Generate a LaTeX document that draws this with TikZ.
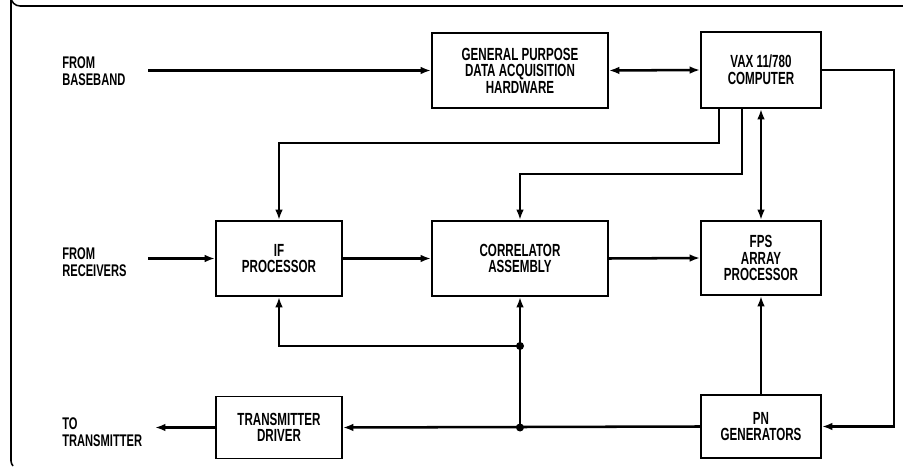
\documentclass[tikz,border=0pt]{standalone}
\usepackage{fontspec}
\setmainfont[FakeStretch=0.66]{Liberation Sans}
\usepackage{tikz}
\usetikzlibrary{arrows.meta,calc}
\tikzset{
  blk/.style ={draw=black, line width=1.3pt, align=center, inner sep=2pt,
               font=\fontsize{12.5}{11.8}\selectfont\bfseries},
  lbl/.style ={anchor=west, align=left, inner sep=0pt,
               font=\fontsize{12}{12.1}\selectfont\bfseries},
  con/.style ={draw=black, line width=1.8pt, -{Latex[length=0.26cm,width=0.19cm]}},
  dcon/.style={draw=black, line width=1.8pt, {Latex[length=0.26cm,width=0.19cm]}-{Latex[length=0.26cm,width=0.19cm]}},
}

\begin{document}
\begin{tikzpicture}[x=0.025cm,y=-0.025cm]
  \useasboundingbox (0,0) rectangle (903,472);
  % frame
  \draw[line width=1.1pt] (903,6) -- (20,6) arc (90:180:9) -- (11,461) to[out=270,in=120] (13,466);

  % blocks
  \node[blk, minimum width=4.4cm, minimum height=1.875cm] (gp)  at (520,70.5) {GENERAL PURPOSE\\DATA ACQUISITION\\HARDWARE};
  \node[blk, minimum width=3cm,   minimum height=1.9cm]   (vax) at (761,70)   {VAX 11/780\\COMPUTER};
  \node[blk, minimum width=3.15cm,minimum height=1.875cm] (ifp) at (279,258.5) {IF\\PROCESSOR};
  \node[blk, minimum width=4.4cm, minimum height=1.875cm] (cor) at (520,258.5) {CORRELATOR\\ASSEMBLY};
  \node[blk, minimum width=3cm,   minimum height=1.85cm]  (fps) at (761,258)  {FPS\\ARRAY\\PROCESSOR};
  \node[blk, minimum width=3.15cm,minimum height=1.55cm]  (txd) at (279,427.5) {TRANSMITTER\\DRIVER};
  \node[blk, minimum width=3cm,   minimum height=1.575cm] (pn)  at (761,426.5) {PN\\GENERATORS};

  % outside labels
  \node[lbl] (lbb) at (62,71)  {FROM\\BASEBAND};
  \node[lbl] (lrx) at (62,262) {FROM\\RECEIVERS};
  \node[lbl] (ltx) at (62,432) {TO\\TRANSMITTER};
  \coordinate (bb) at (148,70.5);
  \coordinate (rx) at (148,258.5);
  \coordinate (tx) at (155,427.5);
  \coordinate (j1) at (520,346);
  \coordinate (j2) at (520,427.5);

  % connectors
  \draw[con]  (bb) -- (gp.west);
  \draw[dcon] (gp.east) -- (vax.west);
  \draw[con]  ($(vax.south west)+(19,0)$) -- ++(0,34) -| (ifp.north);
  \draw[con]  ($(vax.south west)+(42,0)$) -- ++(0,65) -| (cor.north);
  \draw[dcon] (vax.south) -- (fps.north);
  \draw[con]  (vax.east) -- ++(72,0) |- (pn.east);
  \draw[con]  (rx) -- (ifp.west);
  \draw[con]  (ifp.east) -- (cor.west);
  \draw[con]  (cor.east) -- (fps.west);
  \draw[con]  (pn.north) -- (fps.south);
  \draw[con]  (pn.west) -- (txd.east);
  \draw[con]  (j2) -- (cor.south);
  \draw[con]  (j1) -| (ifp.south);
  \draw[con]  (txd.west) -- (tx);
  \fill (j1) circle (4);
  \fill (j2) circle (4);
\end{tikzpicture}
\end{document}
